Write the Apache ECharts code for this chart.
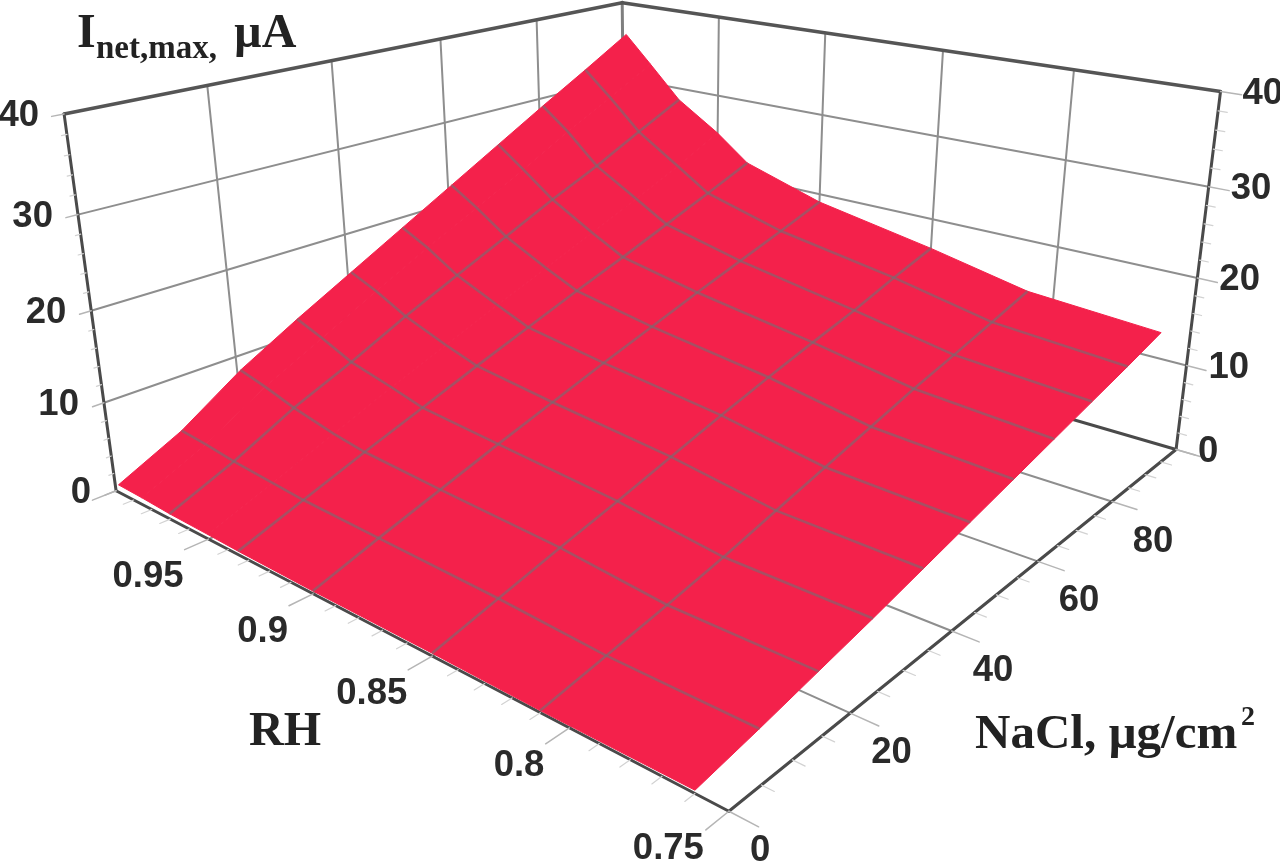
<!DOCTYPE html>
<html><head><meta charset="utf-8"><style>html,body{margin:0;background:#fff}#c{width:1280px;height:865px;filter:blur(0.7px)}</style>
<script src="https://cdn.jsdelivr.net/npm/echarts@6/dist/echarts.min.js"></script></head>
<body><div id="c"></div>
<script>
// ---- data ----
const rhGrid   = [0.998,0.985,0.97,0.95,0.935,0.9,0.85,0.81,0.76];
const naclGrid = [0,10,20,30,40,50,60,70,80,90,100];
const iAt998 = [0.9,4.2,8.6,12.2,15.6,19.0,22.4,25.8,29.2,32.5,35.9];
const iAt985 = [0.8,3.9,7.8,11.0,14.3,17.4,20.4,23.4,26.6,29.5,32.5];
const iAt97  = [0.6,3.4,6.7,9.4,12.4,15.1,17.8,20.5,23.0,25.8,28.5];
const iAt95  = [0.5,3.0,5.6,8.2,10.6,13.0,15.3,17.6,20.0,22.4,25.1];
const iAt935 = [0.4,2.7,5.0,7.2,9.4,11.5,13.6,15.6,17.7,19.8,22.0];
const iAt90  = [0.3,2.4,4.4,6.4,8.3,10.2,12.0,13.8,15.5,17.2,19.0];
const iAt85  = [0.3,2.0,3.7,5.3,7.0,8.7,10.3,11.8,13.2,14.9,16.4];
const iAt81  = [0.2,1.4,2.6,3.9,5.4,6.9,8.4,9.9,11.2,12.6,14.0];
const iAt76  = [0.3,1.4,2.6,3.8,5.1,6.4,7.7,9.0,10.3,11.6,13.0];
const surface = [iAt998,iAt985,iAt97,iAt95,iAt935,iAt90,iAt85,iAt81,iAt76];
const meshRH = [0.97,0.935,0.9,0.85,0.81];
const meshNaCl = [10,20,30,40,50,60,70,80,90];
const rhTicks = [0.95,0.9,0.85,0.8,0.75];
const rhTickLabels = ['0.95','0.9','0.85','0.8','0.75'];
const naclTicks = [0,20,40,60,80];
const iTicks = [0,10,20,30,40];
const rhRange=[0.75,1], naclRange=[0,100], iRange=[0,40];

// ---- camera of the 3D box ----
const CAM=[[-565.506,1022.72,-80.927,728.885],[-120.548,-141.815,-544.144,811.282],[0.407399,0.489383,-0.120545,1]];
function project(rh,nacl,cur){
  const x=(rh-rhRange[0])/(rhRange[1]-rhRange[0]),y=(nacl-naclRange[0])/(naclRange[1]-naclRange[0]),z=(cur-iRange[0])/(iRange[1]-iRange[0]);
  const w=CAM[2][0]*x+CAM[2][1]*y+CAM[2][2]*z+1;
  return [(CAM[0][0]*x+CAM[0][1]*y+CAM[0][2]*z+CAM[0][3])/w,(CAM[1][0]*x+CAM[1][1]*y+CAM[1][2]*z+CAM[1][3])/w];
}
const R0=rhRange[0],R1=rhRange[1],N0=naclRange[0],N1=naclRange[1],I0=iRange[0],I1=iRange[1];
const RED='#f4214b';

// ---- segments of the box: [rh,nacl,i, rh,nacl,i, style]
const STY=[{stroke:'#8e8e8e',lineWidth:2},{stroke:'#4a4a4a',lineWidth:3},{stroke:'#555',lineWidth:3.6},{stroke:'#b5b5b5',lineWidth:1.5},{stroke:'#7f7f7f',lineWidth:3},{stroke:'#d2d2d2',lineWidth:1.2}];
const seg=[];
[0.8,0.85,0.9,0.95].forEach(r=>{seg.push([r,N0,I0,r,N1,I0,0]);seg.push([r,N1,I0,r,N1,I1,0]);});
[20,40,60,80].forEach(n=>{seg.push([R0,n,I0,R1,n,I0,0]);seg.push([R1,n,I0,R1,n,I1,0]);});
[10,20,30].forEach(c=>{seg.push([R1,N0,c,R1,N1,c,0]);seg.push([R1,N1,c,R0,N1,c,0]);});
seg.push([R1,N1,I0,R1,N1,I1,4]);
seg.push([R1,N0,I1,R1,N1,I1,2],[R1,N1,I1,R0,N1,I1,2]);
seg.push([R1,N0,I0,R1,N0,I1,1],[R0,N1,I0,R0,N1,I1,1]);
seg.push([R1,N0,I0,R0,N0,I0,1],[R0,N0,I0,R0,N1,I0,1],[R0,N1,I0,R1,N1,I0,1]);
// outward tick marks
const tk=[];
for(let c=0;c<=40;c+=2){const M=c%10===0,L=M?1.6:0.7,S=M?3:5;tk.push([R1,N0,c,R1,N0-L,c,S]);tk.push([R0,N1,c,R0-L*0.0042,N1,c,S]);}
for(let n=0;n<=100;n+=5){const M=n%20===0,L=M?3.4:1.5,S=M?3:5;tk.push([R0,n,I0,R0-L*0.0025,n,I0,S]);}
for(let r=75;r<=100;r+=1){const M=r%5===0,L=M?3.4:1.5,S=M?3:5;tk.push([r/100,N0,I0,r/100,N0-L,I0,S]);}
const segments=seg.concat(tk);

// ---- surface cells
const cells=[];
for(let a=0;a<rhGrid.length-1;a++)for(let b=naclGrid.length-2;b>=0;b--)cells.push([a,b]);
function surfPt(a,b){return project(rhGrid[a],naclGrid[b],surface[a][b]);}

// ---- mesh lines on the surface
const mesh=[];
meshRH.forEach(r=>mesh.push(['r',rhGrid.indexOf(r)]));
meshNaCl.forEach(n=>mesh.push(['n',naclGrid.indexOf(n)]));

// ---- tick labels
const FONT='bold 36.5px "Liberation Sans",Arial,sans-serif',TXT='#2a2a2a';
const labels=[];
iTicks.forEach(c=>{labels.push([R1,N0,c,String(c),-25,2,'right']);labels.push([R0,N1,c,String(c),22,2,'left']);});
naclTicks.forEach(n=>labels.push([R0,n,I0,String(n),21,40,'left']));
rhTicks.forEach((r,k)=>labels.push([r,N0,I0,rhTickLabels[k],-25,38,'right']));

const serif='"Liberation Serif","Times New Roman",serif';
function title(t,x,y,size){return{type:'text',x,y,silent:true,style:{text:t,font:'bold '+size+'px '+serif,fill:'#222',align:'left',verticalAlign:'middle'}};}

const chart=echarts.init(document.getElementById('c'),null,{renderer:'canvas'});
chart.setOption({
  animation:false,backgroundColor:'#fff',
  graphic:{elements:[
    title('I',77,35,48),title('net,max,',96,49,33),title('µA',234,35,48),
    title('RH',249,733,48),
    title('NaCl, µg/cm',975,735,49),title('2',1241,718,28)
  ]},
  series:[
    {type:'custom',coordinateSystem:'none',silent:true,z:1,data:segments,
     renderItem:(p,api)=>{const a=project(api.value(0),api.value(1),api.value(2)),b=project(api.value(3),api.value(4),api.value(5));
       return{type:'line',shape:{x1:a[0],y1:a[1],x2:b[0],y2:b[1]},style:Object.assign({lineCap:'round'},STY[api.value(6)])};}},
    {type:'custom',coordinateSystem:'none',silent:true,z:2,data:cells,
     renderItem:(p,api)=>{const a=api.value(0),b=api.value(1);
       return{type:'polygon',shape:{points:[surfPt(a,b),surfPt(a+1,b),surfPt(a+1,b+1),surfPt(a,b+1)]},style:{fill:RED,stroke:RED,lineWidth:1}};}},
    {type:'custom',coordinateSystem:'none',silent:true,z:3,data:mesh.map((m,i)=>[i]),
     renderItem:(p,api)=>{const m=mesh[api.value(0)];
       const pts=m[0]==='r'?naclGrid.map((_,b)=>surfPt(m[1],b)):rhGrid.map((_,a)=>surfPt(a,m[1]));
       return{type:'polyline',shape:{points:pts},style:{fill:'none',stroke:'rgba(118,108,114,0.62)',lineWidth:2.6}};}},
    {type:'custom',coordinateSystem:'none',silent:true,z:4,data:labels.map((l,i)=>[i]),
     renderItem:(p,api)=>{const l=labels[api.value(0)],q=project(l[0],l[1],l[2]);
       return{type:'text',x:q[0]+l[4],y:q[1]+l[5],style:{text:l[3],font:FONT,fill:TXT,align:l[6],verticalAlign:'middle'}};}}
  ]
});
</script></body></html>
